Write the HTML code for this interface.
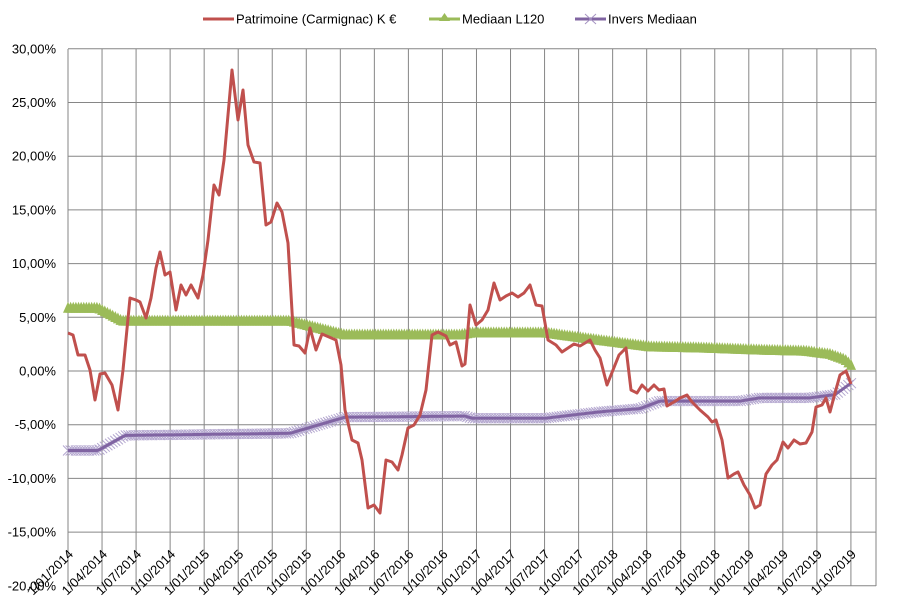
<!DOCTYPE html>
<html><head><meta charset="utf-8"><style>
body{margin:0;background:#fff;overflow:hidden;}
svg{display:block;font-family:"Liberation Sans",sans-serif;}
</style></head><body>
<svg id="c" width="897" height="602" xmlns="http://www.w3.org/2000/svg">
<rect width="897" height="602" fill="#fff"/>
<g id="grid" stroke="#868686" stroke-width="1"></g>
<g id="ylab" font-size="13" fill="#000" text-anchor="end"></g>
<g id="xlab" font-size="13" fill="#000" text-anchor="end"></g>
<g id="series"></g>
<g font-size="13" fill="#000">
<line x1="203" y1="19" x2="234" y2="19" stroke="#C0504D" stroke-width="3"/>
<text x="236" y="23.5">Patrimoine (Carmignac) K €</text>
<line x1="429" y1="19" x2="460" y2="19" stroke="#9BBB59" stroke-width="3"/>
<polygon points="444.5,13 450,21 439,21" fill="#9BBB59"/>
<text x="462" y="23.5">Mediaan L120</text>
<line x1="575" y1="19" x2="606" y2="19" stroke="#8064A2" stroke-width="3"/>
<path d="M585,14 L596,24 M585,24 L596,14" stroke="#A593C2" stroke-width="1"/>
<text x="608" y="23.5">Invers Mediaan</text>
</g>
</svg>
<script>
const NS="http://www.w3.org/2000/svg";
function el(t,a,p){const e=document.createElementNS(NS,t);for(const k in a)e.setAttribute(k,a[k]);if(p)p.appendChild(e);return e;}
const g=document.getElementById('grid'),yl=document.getElementById('ylab'),xl=document.getElementById('xlab'),S=document.getElementById('series');
const X0=68,X1=876,dq=34.04;
const Y=v=>371-v*10.74;
for(let i=0;i<=10;i++){const v=30-5*i,y=Y(v);el('line',{x1:X0,y1:y,x2:X1,y2:y},g);
 const t=el('text',{x:56,y:y+4.5},yl);t.textContent=v.toFixed(2).replace('.',',')+'%';}
const labs=["1/01/2014","1/04/2014","1/07/2014","1/10/2014","1/01/2015","1/04/2015","1/07/2015","1/10/2015","1/01/2016","1/04/2016","1/07/2016","1/10/2016","1/01/2017","1/04/2017","1/07/2017","1/10/2017","1/01/2018","1/04/2018","1/07/2018","1/10/2018","1/01/2019","1/04/2019","1/07/2019","1/10/2019"];
labs.forEach((l,i)=>{const x=X0+i*dq;el('line',{x1:x,y1:49,x2:x,y2:586},g);
 const ax=x+6,ay=555;
 const t=el('text',{x:ax,y:ay,transform:`rotate(-45 ${ax} ${ay})`},xl);t.textContent=l;});
el('line',{x1:X1,y1:49,x2:X1,y2:586},g);
function interp(pts,step){const out=[];for(let x=pts[0][0];x<=pts[pts.length-1][0]+0.01;x+=step){let i=0;while(i<pts.length-2&&pts[i+1][0]<x)i++;const a=pts[i],b=pts[i+1];const t=(x-a[0])/(b[0]-a[0]);out.push([x,Y(a[1]+(b[1]-a[1])*Math.max(0,Math.min(1,t)))]);}return out;}
const step=783/298;
const green=interp([[68,5.8],[98,5.8],[122,4.6],[290,4.6],[345,3.3],[460,3.3],[472,3.5],[545,3.5],[600,2.8],[650,2.2],[700,2.1],[760,1.9],[805,1.8],[830,1.5],[845,1.0],[853,0.3]],step);
const purple=interp([[68,-7.4],[98,-7.4],[125,-6.0],[290,-5.8],[345,-4.3],[465,-4.2],[472,-4.4],[545,-4.4],[600,-3.8],[640,-3.5],[660,-2.8],[740,-2.8],[760,-2.5],[810,-2.5],[835,-2.2],[853,-1.0]],step);
const gp=el('g',{},S);
el('polyline',{points:green.map(p=>p.join(',')).join(' '),fill:'none',stroke:'#9BBB59','stroke-width':3},gp);
green.forEach(p=>el('polygon',{points:`${p[0]},${p[1]-7} ${p[0]+5},${p[1]+4} ${p[0]-5},${p[1]+4}`,fill:'#9BBB59'},gp));
const pp=el('g',{},S);
let d='';purple.forEach(p=>{d+=`M${p[0]-5},${p[1]-5}L${p[0]+5},${p[1]+5}M${p[0]-5},${p[1]+5}L${p[0]+5},${p[1]-5}`;});
el('path',{d:d,stroke:'#B3A6CF','stroke-width':1,fill:'none'},pp);
el('polyline',{points:purple.map(p=>p.join(',')).join(' '),fill:'none',stroke:'#8064A2','stroke-width':3},pp);
const red=[[68,333],[73,335],[78,355],[85,355],[90,370],[95,400],[100,374],[105,373],[112,385],[118,410],[123,370],[130,298],[136,300],[140,302],[146,318],[151,298],[156,268],[160,252],[165,275],[170,272],[176,310],[181,285],[186,295],[191,285],[198,298],[203,275],[208,240],[214,185],[219,195],[224,160],[232,70],[238,120],[243,90],[248,145],[254,162],[260,163],[266,225],[271,222],[277,203],[282,212],[288,243],[294,345],[299,346],[305,353],[310,328],[316,350],[322,334],[336,340],[341,365],[345,410],[352,440],[358,443],[362,460],[368,508],[374,505],[380,513],[386,460],[392,462],[398,470],[402,455],[408,428],[414,425],[420,415],[426,390],[432,335],[438,332],[446,336],[450,345],[456,342],[462,366],[465,364],[470,305],[476,325],[482,320],[488,310],[494,283],[500,300],[506,296],[512,293],[518,297],[524,293],[530,285],[536,305],[542,306],[548,340],[556,345],[562,352],[568,348],[574,344],[580,346],[590,340],[595,350],[600,358],[607,385],[613,370],[619,355],[626,348],[631,390],[637,393],[642,385],[648,391],[654,385],[659,390],[664,389],[667,406],[674,402],[680,398],[687,395],[692,402],[700,410],[708,417],[712,422],[716,420],[722,440],[728,478],[734,474],[738,472],[744,485],[750,495],[755,508],[760,505],[766,474],[772,465],[777,460],[783,442],[788,448],[794,440],[800,444],[806,443],[812,432],[816,407],[822,405],[826,398],[830,412],[835,393],[840,375],[846,371],[851,384]];
el('polyline',{points:red.map(p=>p.join(',')).join(' '),fill:'none',stroke:'#C0504D','stroke-width':3,'stroke-linejoin':'round'},S);
</script>
</body></html>
